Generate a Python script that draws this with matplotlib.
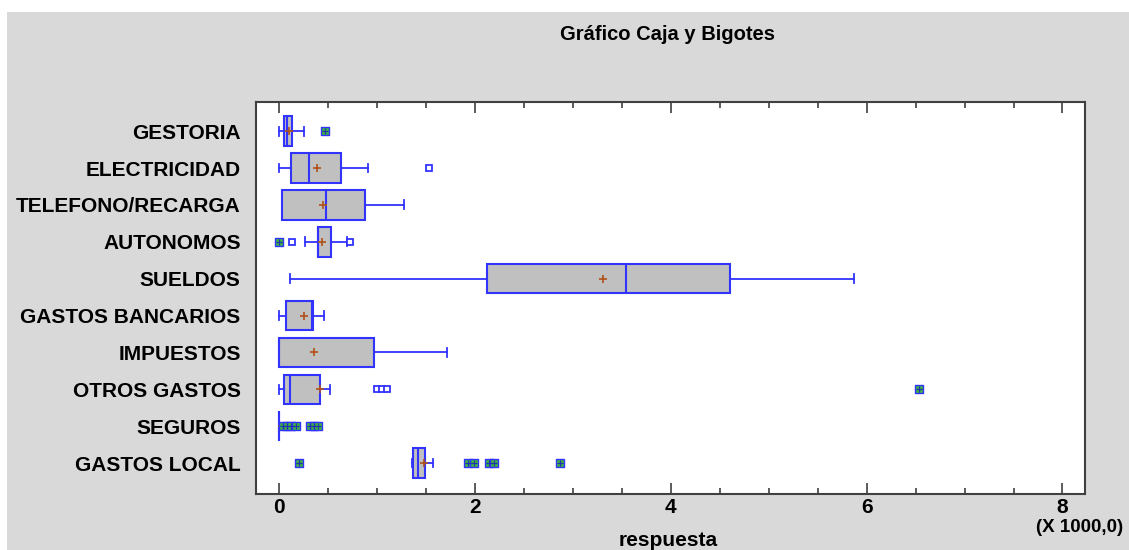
import numpy as np
import matplotlib
matplotlib.use('Agg')
import matplotlib.pyplot as plt
from matplotlib.patches import Rectangle
from matplotlib.ticker import MultipleLocator

# Resumen por categoria (valores en miles)
categorias = ['GESTORIA', 'ELECTRICIDAD', 'TELEFONO/RECARGA', 'AUTONOMOS', 'SUELDOS',
              'GASTOS BANCARIOS', 'IMPUESTOS', 'OTROS GASTOS', 'SEGUROS', 'GASTOS LOCAL']
bigote_inf = [0.0, 0.0, 0.027, 0.269, 0.112, 0.0, 0.0, 0.0, 0.0, 1.36]
cuartil_1 = [0.055, 0.119, 0.027, 0.398, 2.121, 0.068, 0.0, 0.054, 0.0, 1.372]
mediana = [0.078, 0.303, 0.48, 0.40, 3.544, 0.34, 0.0, 0.109, 0.0, 1.417]
cuartil_3 = [0.136, 0.637, 0.875, 0.528, 4.607, 0.344, 0.97, 0.415, 0.0, 1.491]
bigote_sup = [0.252, 0.912, 1.28, 0.695, 5.873, 0.463, 1.719, 0.517, 0.0, 1.57]
media = [0.105, 0.385, 0.446, 0.436, 3.306, 0.252, 0.361, 0.415, 0.034, 1.485]
atipicos = [[], [1.529], [], [0.133, 0.725], [], [], [], [0.998, 1.049, 1.106], [], []]
atipicos_lejanos = [[0.467], [], [], [0.003], [], [], [], [6.53],
                    [0.04, 0.08, 0.12, 0.17, 0.32, 0.36, 0.40],
                    [0.201, 1.934, 1.989, 2.148, 2.20, 2.87]]

azul = '#3333ff'
gris = '#d9d9d9'
fuente = 'Liberation Sans'

fig = plt.figure(figsize=(11.29, 5.5), dpi=100)
fig.patches.append(Rectangle((7/1129, 0), 1, 538/550, transform=fig.transFigure,
                             facecolor=gris, edgecolor='none', zorder=-1))
ax = fig.add_axes([256/1129, 56/550, 829/1129, 392/550])

pos = np.arange(len(categorias))
stats = []
for i in range(len(categorias)):
    stats.append({'whislo': bigote_inf[i], 'q1': cuartil_1[i], 'med': mediana[i],
                  'q3': cuartil_3[i], 'whishi': bigote_sup[i], 'mean': media[i],
                  'fliers': atipicos[i]})

ax.bxp(stats, positions=pos, widths=0.8, capwidths=0.24, orientation='horizontal',
       patch_artist=True, showmeans=True,
       boxprops=dict(facecolor='#c0c0c0', edgecolor=azul, linewidth=1.5),
       medianprops=dict(color=azul, linewidth=1.5),
       whiskerprops=dict(color=azul, linewidth=1.3),
       capprops=dict(color=azul, linewidth=1.3),
       meanprops=dict(marker='+', markeredgecolor='#b0501a', markersize=6,
                      markeredgewidth=1.2),
       flierprops=dict(marker='s', markerfacecolor='white', markeredgecolor=azul,
                       markersize=5, markeredgewidth=1.3))

# atipicos lejanos: cuadrado relleno con cruz
for i, vals in enumerate(atipicos_lejanos):
    if vals:
        y = np.full(len(vals), pos[i])
        ax.scatter(vals, y, marker='s', s=26, facecolor='#3cb043', edgecolor=azul,
                   linewidth=1.0, zorder=4)
        ax.scatter(vals, y, marker='+', s=20, color='#2030b0', linewidth=0.8, zorder=5)

ax.set_xlim(-0.235, 8.23)
ax.set_ylim(9.84, -0.79)
ax.set_yticks(pos)
ax.set_yticklabels(categorias, fontfamily=fuente, fontweight='bold', fontsize=15)
ax.tick_params(axis='y', length=0, pad=11)

ax.xaxis.set_major_locator(MultipleLocator(2))
ax.xaxis.set_minor_locator(MultipleLocator(0.5))
ax.tick_params(axis='x', which='both', direction='in', top=True, width=1.2, color='#404040')
ax.tick_params(axis='x', which='major', length=8, pad=3)
ax.tick_params(axis='x', which='minor', length=4)
for lab in ax.get_xticklabels():
    lab.set_fontfamily(fuente)
    lab.set_fontweight('bold')
    lab.set_fontsize(15)

for sp in ax.spines.values():
    sp.set_color('#404040')
    sp.set_linewidth(1.5)

fig.text(668/1129, 1 - 35/550, 'Gráfico Caja y Bigotes', ha='center', va='center',
         fontfamily=fuente, fontweight='bold', fontsize=14.5)
fig.text(668/1129, 1 - 541/550, 'respuesta', ha='center', va='center',
         fontfamily=fuente, fontweight='bold', fontsize=15)
fig.text(1036/1129, 1 - 528/550, '(X 1000,0)', ha='left', va='center',
         fontfamily=fuente, fontweight='bold', fontsize=13.5)

fig.savefig('out.png', dpi=100, facecolor='white')
